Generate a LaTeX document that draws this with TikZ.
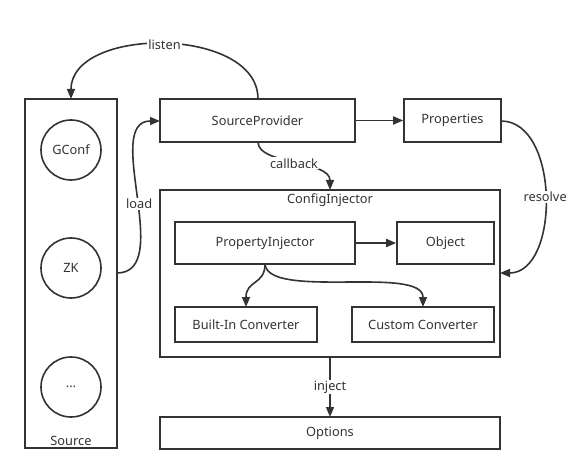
\documentclass[tikz,border=0pt]{standalone}
\usepackage{fontspec}
\setmainfont{Noto Sans}
\usetikzlibrary{arrows.meta}
\definecolor{ink}{HTML}{333333}
\begin{document}
\begin{tikzpicture}[x=1pt,y=-1pt,
  box/.style={draw=ink,line width=1.6pt,rectangle,inner sep=0pt},
  circ/.style={draw=ink,line width=1.6pt,circle,minimum size=60pt,inner sep=0pt},
  lbl/.style={fill=white,inner sep=1pt,text=ink},
  conn/.style={draw=ink,line width=1.6pt,-{Triangle[length=10pt,width=8pt]}},
  every node/.style={font=\fontsize{12.8}{15}\selectfont,text=ink}]
\useasboundingbox (0,0) rectangle (586,473);
% Source
\node[box,minimum width=92pt,minimum height=349pt] (src) at (71,273.5) {};
\node[text=ink] (srclbl) at (71,441) {Source};
\node[circ] (gconf) at (71,150) {GConf};
\node[circ] (zk) at (71,268) {ZK};
\node[circ] (dots) at (71,387) {...};
% top row
\node[box,minimum width=195pt,minimum height=43pt] (sp) at (257.5,120.5) {SourceProvider};
\node[box,minimum width=97pt,minimum height=43pt] (props) at (452.5,120.5) {Properties};
% ConfigInjector
\node[box,minimum width=340pt,minimum height=167pt] (ci) at (330,273.5) {};
\node (cilbl) at (330,200) {ConfigInjector};
\node[box,minimum width=180pt,minimum height=42pt] (pi) at (265,243) {PropertyInjector};
\node[box,minimum width=97pt,minimum height=42pt] (obj) at (445.5,243) {Object};
\node[box,minimum width=142pt,minimum height=35pt] (bic) at (246,324.5) {Built-In Converter};
\node[box,minimum width=142pt,minimum height=35pt] (cc) at (423,324.5) {Custom Converter};
% Options
\node[box,minimum width=340pt,minimum height=32pt] (opt) at (330,433) {Options};
% coordinates
\coordinate (spTop) at (258,99);
\coordinate (srcTop) at (71,99);
\coordinate (srcR) at (117,273);
\coordinate (spL) at (160,121);
\coordinate (spBot) at (258,142);
\coordinate (ciTop) at (330,190);
\coordinate (propsR) at (501,121);
\coordinate (ciR) at (500,273);
\coordinate (piBot) at (265,264);
\coordinate (bicTop) at (246,307);
\coordinate (ccTop) at (423,307);
\coordinate (ciBot) at (330,357);
\coordinate (optTop) at (330,417);
% connectors
\draw[conn] (spTop) .. controls (258,26) and (71,26) .. node[lbl,pos=0.5]{listen} (srcTop);
\draw[conn] (srcR) .. controls (175,273) and (102,121) .. node[lbl,pos=0.47]{load} (spL);
\draw[conn] (sp.east) -- (props.west);
\draw[conn] (spBot) .. controls (258,165) and (330,160) .. node[lbl,pos=0.5]{callback} (ciTop);
\draw[conn] (propsR) .. controls (560,121) and (560,273) .. node[lbl,pos=0.5]{resolve} (ciR);
\draw[conn] (pi.east) -- (obj.west);
\draw[conn] (piBot) .. controls (265,285) and (246,280) .. (bicTop);
\draw[conn] (piBot) .. controls (268,300) and (423,265) .. (ccTop);
\draw[conn] (ciBot) -- node[lbl,pos=0.5]{inject} (optTop);
\end{tikzpicture}
\end{document}
